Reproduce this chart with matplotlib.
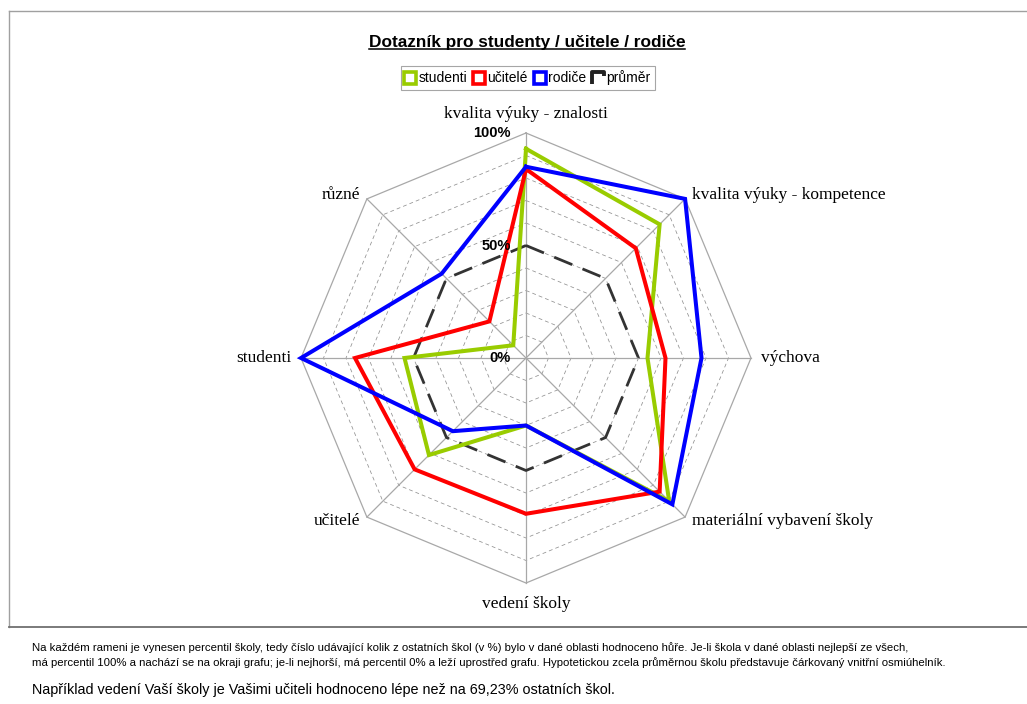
import numpy as np
import matplotlib
matplotlib.use("Agg")
import matplotlib.pyplot as plt
from matplotlib.lines import Line2D
from matplotlib.path import Path

categories = ["kvalita výuky - znalosti", "kvalita výuky - kompetence", "výchova",
              "materiální vybavení školy", "vedení školy", "učitelé", "studenti", "různé"]
studenti = [93, 84, 54, 90, 30, 61, 54, 8]
ucitele = [84, 69, 62, 84, 69.23, 70, 76, 23]
rodice = [85, 100, 78, 92, 30, 46, 100, 53]
prumer = [50, 50, 50, 50, 50, 50, 50, 50]
series_names = ["studenti", "učitelé", "rodiče", "průměr"]
pct_labels = ["100%", "50%", "0%"]
pct_values = [100, 50, 0]

W, H = 1027, 704
fig = plt.figure(figsize=(W / 100, H / 100), dpi=100)
fig.patch.set_facecolor("white")

# frame lines
fig.add_artist(Line2D([9 / W, 9 / W], [1 - 11 / H, 1 - 627 / H], color="#a0a0a0", lw=1.0))
fig.add_artist(Line2D([9 / W, 1.0], [1 - 11 / H, 1 - 11 / H], color="#a0a0a0", lw=1.0))
fig.add_artist(Line2D([9 / W, 1.0], [1 - 627 / H, 1 - 627 / H], color="#707070", lw=1.3))

cx, cy, R = 526, 358, 225
ax = fig.add_axes([(cx - R) / W, (H - cy - R) / H, 2 * R / W, 2 * R / H], projection="polar")
ax.set_theta_zero_location("N")
ax.set_theta_direction(-1)
ax.set_ylim(0, 100)
ax.grid(False)
ax.spines["polar"].set_visible(False)
ax.set_xticks([])
ax.set_yticks([])
ax.patch.set_alpha(0)

n = len(categories)
angles = np.arange(n) * 2 * np.pi / n
ang_c = np.append(angles, angles[0])

# grid rings
for r in range(10, 101, 10):
    if r == 100:
        ax.plot(ang_c, [r] * (n + 1), color="#a8a8a8", lw=0.9, clip_on=False, zorder=1)
    else:
        ax.plot(ang_c, [r] * (n + 1), color="#909090", lw=0.55, ls=(0, (5, 4)), clip_on=False, zorder=1)
for a in angles:
    ax.plot([a, a], [0, 100], color="#a8a8a8", lw=0.9, clip_on=False, zorder=1)

colors = ["#99CC00", "#FF0000", "#0000FF", "#333333"]
data = [studenti, ucitele, rodice, prumer]
for i, (vals, col, name) in enumerate(zip(data, colors, series_names)):
    v = np.append(vals, vals[0])
    if name == "průměr":
        ax.plot(ang_c, v, color=col, lw=2.0, ls=(0, (7, 4)), clip_on=False, zorder=2)
    else:
        ax.plot(ang_c, v, color=col, lw=2.9, clip_on=False, zorder=3 + i, solid_joinstyle="miter")

# percent labels
for lab, val in zip(pct_labels, pct_values):
    ax.annotate(lab, xy=(0, val), xytext=(-11, 0), textcoords="offset points",
                ha="right", va="center", fontsize=10.5, fontweight="bold",
                family="Liberation Sans", annotation_clip=False, zorder=10)

# category labels
serif = "Liberation Serif"
offs = [((0, 8), "center", "bottom"), ((5, 3), "left", "center"), ((7, 0), "left", "center"),
        ((5, -3), "left", "center"), ((0, -9), "center", "top"), ((-5, -3), "right", "center"),
        ((-7, 0), "right", "center"), ((-5, 3), "right", "center")]
for a, lab, (off, ha, va) in zip(angles, categories, offs):
    ax.annotate(lab, xy=(a, 100), xytext=off, textcoords="offset points", ha=ha, va=va,
                fontsize=12.5, family=serif, annotation_clip=False)

# legend
gamma = Path([(-1, -1), (-1, 1), (1, 1), (1, 0.3)],
             [Path.MOVETO, Path.LINETO, Path.LINETO, Path.LINETO])
handles = []
for c, name in zip(colors, series_names):
    if name == "průměr":
        handles.append(Line2D([], [], ls="none", marker=gamma, markersize=8, markerfacecolor="none",
                              markeredgecolor="#222222", markeredgewidth=2.8))
    else:
        handles.append(Line2D([], [], ls="none", marker="s", markersize=8, markerfacecolor="white",
                              markeredgecolor=c, markeredgewidth=2.6))
leg = fig.legend(handles, series_names, loc="center", bbox_to_anchor=(528 / W, 1 - 78 / H),
                 ncol=4, frameon=True, fancybox=False, handlelength=0.7, handletextpad=0.25,
                 columnspacing=0.5, borderpad=0.3, prop={"family": "Liberation Sans", "size": 10})
leg.get_frame().set_edgecolor("#909090")
leg.get_frame().set_linewidth(0.8)

# title
title = fig.text(527 / W, 1 - 42 / H, "Dotazník pro studenty / učitele / rodiče", ha="center",
                 va="center", fontsize=12.4, fontweight="bold", family="Liberation Sans")
fig.canvas.draw()
bb = title.get_window_extent(renderer=fig.canvas.get_renderer())
fig.add_artist(Line2D([bb.x0 / W, bb.x1 / W], [(bb.y0 + 1) / H, (bb.y0 + 1) / H], color="black", lw=1.1))

# footnotes
fig.text(32 / W, 1 - 648 / H,
         "Na každém rameni je vynesen percentil školy, tedy číslo udávající kolik z ostatních škol (v %) bylo v dané oblasti hodnoceno hůře. Je-li škola v dané oblasti nejlepší ze všech,",
         ha="left", va="center", fontsize=8.2, family="Liberation Sans")
fig.text(32 / W, 1 - 663 / H,
         "má percentil 100% a nachází se na okraji grafu; je-li nejhorší, má percentil 0% a leží uprostřed grafu. Hypotetickou zcela průměrnou školu představuje čárkovaný vnitřní osmiúhelník.",
         ha="left", va="center", fontsize=8.2, family="Liberation Sans")
fig.text(32 / W, 1 - 690 / H,
         "Například vedení Vaší školy je Vašimi učiteli hodnoceno lépe než na 69,23% ostatních škol.",
         ha="left", va="center", fontsize=10.4, family="Liberation Sans")

fig.savefig("out.png", dpi=100, facecolor="white")
